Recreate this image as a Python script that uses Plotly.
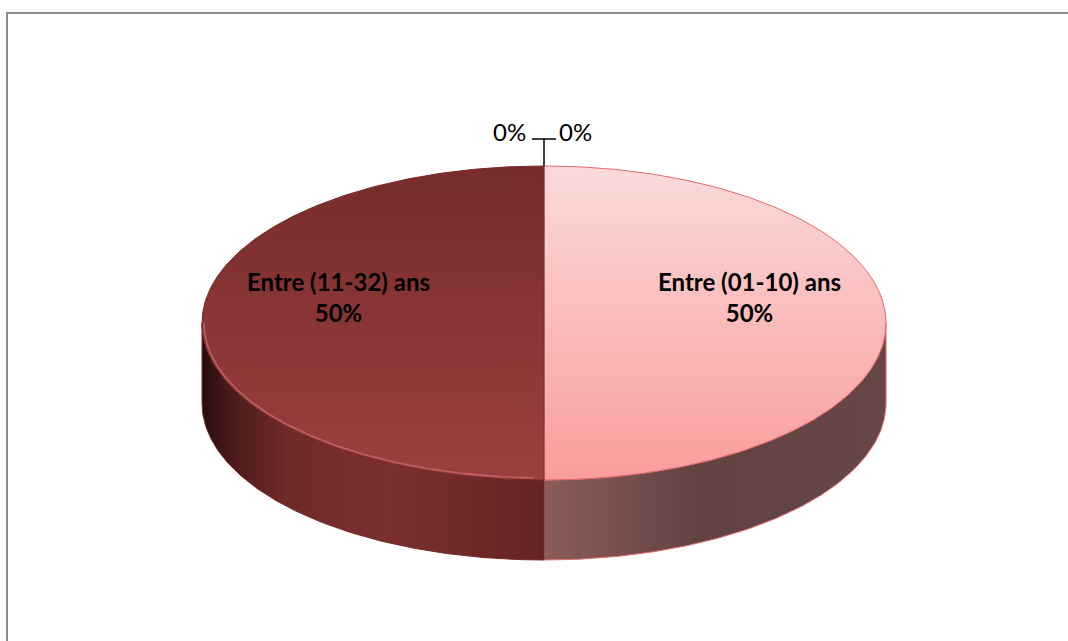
import numpy as np
import plotly.graph_objects as go

# ---- data ----
categories = ["Entre (01-10) ans", "Entre (11-32) ans", "Catégorie 3", "Catégorie 4"]
values = [50, 50, 0, 0]

# ---- style / geometry ----
W, H = 1068, 641
CX, CY = 544, 323          # centre of top ellipse (pixel-like axis units)
A, B = 342, 157            # semi axes
DEPTH = 80                 # thickness of the 3D pie

top_grad = [
    [[0, "#fbdada"], [1, "#fa9c9c"]],      # slice 1 top face (top -> bottom)
    [[0, "#772b2b"], [1, "#9b4040"]],      # slice 2 top face
]
side_grad = [
    [[0, "#8c5c5c"], [0.45, "#634242"], [1, "#664646"]],                      # slice 1 side
    [[0, "#250c0c"], [0.08, "#4a1a1a"], [0.25, "#702a2a"], [0.55, "#7b2f2f"], [1, "#642323"]],  # slice 2 side
]
outline = ["#e26a6a", "#7a2a2a"]

total = sum(values)
fracs = [v / total for v in values]
starts = np.cumsum([0] + fracs[:-1]) * 2 * np.pi
ends = starts + np.array(fracs) * 2 * np.pi


def pt(theta, dy=0.0):
    return CX + A * np.sin(theta), CY - B * np.cos(theta) + dy


fig = go.Figure()

# side faces (drawn first)
for i, (t0, t1) in enumerate(zip(starts, ends)):
    if values[i] == 0:
        continue
    s0, s1 = max(t0, np.pi / 2), min(t1, 3 * np.pi / 2)
    if s1 <= s0:
        continue
    th = np.linspace(s0, s1, 120)
    xt, yt = pt(th)
    xb, yb = pt(th[::-1], DEPTH)
    xs = np.concatenate([xt, xb, xt[:1]])
    ys = np.concatenate([yt, yb, yt[:1]])
    fig.add_trace(go.Scatter(
        x=xs, y=ys, mode="lines", fill="toself",
        line=dict(color=outline[i], width=1),
        fillgradient=dict(type="horizontal", colorscale=side_grad[i],
                          start=float(xs.min()), stop=float(xs.max())),
        hoverinfo="skip", showlegend=False))

# top faces
for i, (t0, t1) in enumerate(zip(starts, ends)):
    if values[i] == 0:
        continue
    th = np.linspace(t0, t1, 240)
    xa, ya = pt(th)
    xs = np.concatenate([[CX], xa, [CX]])
    ys = np.concatenate([[CY], ya, [CY]])
    fig.add_trace(go.Scatter(
        x=xs, y=ys, mode="lines", fill="toself",
        line=dict(color=outline[i], width=1),
        fillgradient=dict(type="vertical", colorscale=top_grad[i],
                          start=float(CY - B), stop=float(CY + B)),
        name=categories[i], hoverinfo="skip", showlegend=False))

# rim highlight (bevel) on the darker slice
th = np.linspace(np.pi * 1.01, np.pi * 1.5, 160)
xh, yh = CX + (A - 2) * np.sin(th), CY - (B - 2) * np.cos(th)
fig.add_trace(go.Scatter(x=xh, y=yh, mode="lines",
                         line=dict(color="rgba(205,110,110,0.75)", width=1.6),
                         hoverinfo="skip", showlegend=False))

# labels
annotations = []
zero_side = 0
for i, (t0, t1) in enumerate(zip(starts, ends)):
    pct = f"{round(fracs[i] * 100)}%"
    if values[i] > 0:
        tm = (t0 + t1) / 2
        lx = CX + 0.6 * A * np.sin(tm)
        ly = CY - 0.6 * B * np.cos(tm) - 26
        annotations.append(dict(
            x=lx, y=ly, xref="x", yref="y", showarrow=False,
            text=f"<b>{categories[i]}<br>{pct}</b>",
            font=dict(family="Lato", size=24, color="#000000"),
            align="center", xanchor="center", yanchor="middle"))
    else:
        tx, ty = pt(t0)
        if zero_side == 0:
            annotations.append(dict(x=tx - 16, y=ty - 35, xref="x", yref="y",
                                    showarrow=False, text=pct, xanchor="right",
                                    yanchor="middle",
                                    font=dict(family="Lato", size=24, color="#000")))
        else:
            annotations.append(dict(x=tx + 13, y=ty - 35, xref="x", yref="y",
                                    showarrow=False, text=pct, xanchor="left",
                                    yanchor="middle",
                                    font=dict(family="Lato", size=24, color="#000")))
        zero_side += 1

# leader lines for the 0% labels
zx, zy = pt(starts[2])
fig.add_trace(go.Scatter(x=[zx, zx, None, zx - 12, zx + 12], y=[zy, zy - 27, None, zy - 27, zy - 27],
                         mode="lines", line=dict(color="#000000", width=1.5),
                         hoverinfo="skip", showlegend=False))

fig.update_layout(
    width=W, height=H,
    margin=dict(l=0, r=0, t=0, b=0),
    paper_bgcolor="white", plot_bgcolor="white",
    xaxis=dict(range=[0, W], visible=False, fixedrange=True),
    yaxis=dict(range=[H, 0], visible=False, fixedrange=True),
    annotations=annotations,
    shapes=[
        dict(type="line", xref="paper", yref="paper", x0=6 / W, x1=1, y0=1 - 13 / H, y1=1 - 13 / H,
             line=dict(color="#8a8a8a", width=2)),
        dict(type="line", xref="paper", yref="paper", x0=7 / W, x1=7 / W, y0=0, y1=1 - 13 / H,
             line=dict(color="#8a8a8a", width=2)),
    ],
)

fig.write_html("out.html", config={"displayModeBar": False},
               post_script="document.body.style.margin='0px';document.body.style.overflow='hidden';")
